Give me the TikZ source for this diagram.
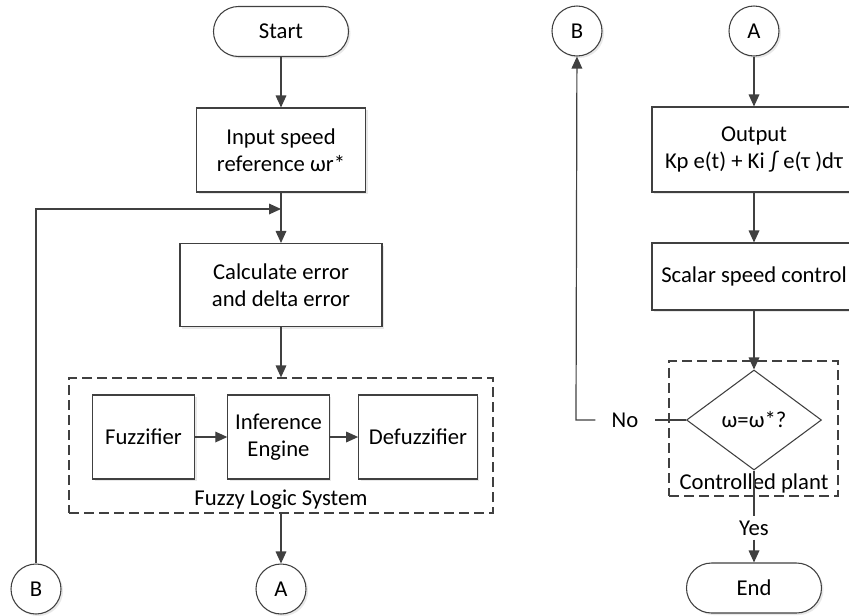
\documentclass[tikz,border=0pt]{standalone}
\usepackage{fontspec}
\setmainfont{Carlito}
\usetikzlibrary{positioning, arrows.meta, shapes.geometric, shadows}

\definecolor{linegray}{RGB}{64,64,64}

\tikzset{
  line/.style={draw=linegray, line width=0.9pt},
  arr/.style={line, -{Triangle[length=9pt,width=8pt]}},
  shade/.style={drop shadow={opacity=0.18, shadow xshift=1.5pt, shadow yshift=-1.5pt}},
  box/.style={draw=linegray, line width=0.8pt, fill=white, align=center, inner sep=3pt, shade},
  term/.style={box, rounded corners=18.75pt, minimum width=101.25pt, minimum height=37.5pt},
  conn/.style={draw=linegray, line width=0.8pt, fill=white, circle, minimum size=37.5pt, inner sep=0pt, shade},
  decision/.style={draw=linegray, line width=0.8pt, fill=white, diamond, aspect=1.35,
    minimum width=101.25pt, minimum height=75pt, inner sep=0pt},
  group/.style={draw=linegray, line width=0.9pt, dash pattern=on 7.5pt off 3.75pt, inner sep=0pt},
  lbl/.style={inner sep=3pt}
}

\begin{document}
\begin{tikzpicture}[x=0.75pt,y=0.75pt,yscale=-1,xscale=1, font=\fontsize{17}{20}\selectfont]
\useasboundingbox (0,0) rectangle (849,615);
% left column
\node[term] (start) at (281,31.5) {Start};
\node[box, minimum width=126.75pt, minimum height=63pt] (input) at (281,150) {Input speed\\reference ωr*};
\node[box, minimum width=151.5pt, minimum height=62.25pt] (calc) at (281,285) {Calculate error\\and delta error};
\node[group, minimum width=318pt, minimum height=101.25pt] (fls) at (281,445.5) {};
\node[box, minimum width=76.5pt, minimum height=63pt] (fuzz) at (143.5,437) {Fuzzifier};
\node[box, minimum width=76pt, minimum height=63pt] (infer) at (278.5,437) {Inference\\Engine};
\node[box, minimum width=89pt, minimum height=63pt] (defuzz) at (418,437) {Defuzzifier};
\node[lbl] (flslabel) at (281,500) {Fuzzy Logic System};
\node[conn] (a1) at (281,589) {A};
\node[conn] (b1) at (36,589) {B};
\coordinate (join) at (281,209);
\coordinate (bcorner) at (36,209);

\draw[arr] (start) -- (input);
\draw[line] (input) -- (join);
\draw[arr] (join) -- (calc);
\draw[arr] (calc) -- (fls);
\draw[arr] (fuzz) -- (infer);
\draw[arr] (infer) -- (defuzz);
\draw[arr] (fls) -- (a1);
\draw[arr] (b1) -- (bcorner) -- (join);

% right column
\node[conn] (b2) at (577,31) {B};
\node[conn] (a2) at (754,31) {A};
\node[box, minimum width=153pt, minimum height=63.75pt] (output) at (754,149.5) {Output\\Kp e(t) + Ki ∫ e(τ )dτ};
\node[box, minimum width=153pt, minimum height=50.25pt] (scalar) at (754,276.5) {Scalar speed control};
\node[group, minimum width=126.75pt, minimum height=101.25pt] (plant) at (753.5,428.5) {};
\node[decision] (check) at (754,420) {ω=ω*?};
\node[lbl] (plantlabel) at (754,483) {Controlled plant};
\node[lbl, inner xsep=12pt] (no) at (625,420) {No};
\node[lbl] (yes) at (754,528) {Yes};
\node[term] (end) at (754,588) {End};
\coordinate (ncorner) at (576,420);

\draw[arr] (a2) -- (output);
\draw[arr] (output) -- (scalar);
\draw[arr] (scalar) -- (check);
\draw[line] (check) -- (no);
\draw[arr] (no) -- (ncorner) -- (b2);
\draw[line] (check) -- (yes);
\draw[arr] (yes) -- (end);

\end{tikzpicture}
\end{document}
